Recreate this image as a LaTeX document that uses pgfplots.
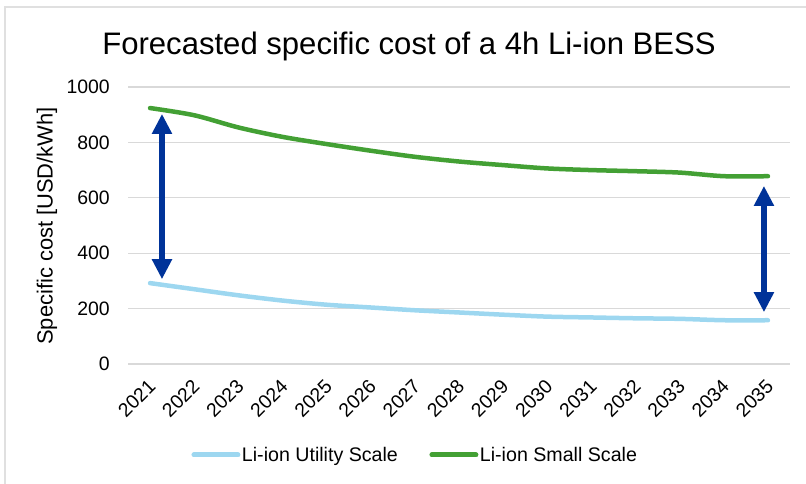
\documentclass[border=0pt]{standalone}
\usepackage{fontspec}
\setmainfont{Liberation Sans}
\usepackage{pgfplots}
\pgfplotsset{compat=1.18}
\usetikzlibrary{arrows.meta}

\definecolor{gridgray}{RGB}{217,217,217}
\definecolor{framegray}{RGB}{224,224,224}
\definecolor{utilblue}{RGB}{157,215,240}
\definecolor{smallgreen}{RGB}{67,160,52}
\definecolor{arrowblue}{RGB}{0,51,153}

% Specific cost of a 4h Li-ion BESS [USD/kWh]
\pgfplotstableread{
year utility small
2021 292 924
2022 270 898
2023 248 854
2024 229 820
2025 214 794
2026 204 770
2027 194 748
2028 186 731
2029 178 718
2030 171 706
2031 168 700
2032 165 696
2033 163 691
2034 158 678
2035 158 678
}\costdata

\begin{document}
\begin{tikzpicture}
\useasboundingbox (0,0) rectangle (806bp,484bp);
% chart area frame
\draw[framegray, line width=1.5bp] (5bp,-20bp) -- (5bp,477bp) -- (830bp,477bp);
% title
\node[font=\fontsize{31.2}{36}\selectfont, anchor=base] at (409bp,429bp)
  {Forecasted specific cost of a 4h Li-ion BESS};
% axis title
\node[font=\fontsize{22}{26}\selectfont, rotate=90, anchor=center] at (47bp,258bp)
  {Specific cost [USD/kWh]};
\begin{axis}[
  at={(128bp,120bp)}, anchor=south west,
  width=662bp, height=277bp, scale only axis,
  xmin=2020.5, xmax=2035.5, ymin=0, ymax=1000,
  xtick={2021,...,2035}, ytick={0,200,...,1000},
  ymajorgrids, grid style={gridgray, line width=1.2bp},
  axis line style={draw=none}, major tick length=0pt,
  /pgf/number format/1000 sep={},
  /pgf/number format/assume math mode=true,
  tick label style={font=\fontsize{19.5}{23}\selectfont},
  yticklabel style={anchor=east, inner sep=0pt, xshift=-18bp},
  xticklabel style={xshift=2bp, yshift=-19bp, rotate=45, anchor=east, inner sep=0pt},
  legend style={draw=none, fill=none, at={(0.4335,-0.3285)}, anchor=center,
    font=\fontsize{19.7}{23}\selectfont, nodes={inner sep=1.5bp},
    /tikz/every even column/.append style={column sep=30bp}},
  legend columns=2,
  legend image code/.code={\draw[#1, line width=5bp, line cap=round] (0bp,0bp) -- (44bp,0bp);},
]
\addplot[utilblue, line width=4.5bp, line cap=round, line join=round, smooth, tension=0.5]
  table[x=year, y=utility] {\costdata};
\addlegendentry{Li-ion Utility Scale}
\addplot[smallgreen, line width=4.5bp, line cap=round, line join=round, smooth, tension=0.5]
  table[x=year, y=small] {\costdata};
\addlegendentry{Li-ion Small Scale}
% cost gap indicators
\addplot[arrowblue, line width=6bp, forget plot,
  {Triangle[width=19bp,length=20bp]}-{Triangle[width=19bp,length=20bp]}]
  coordinates {(2021.27,306) (2021.27,903)};
\addplot[arrowblue, line width=6bp, forget plot,
  {Triangle[width=19bp,length=20bp]}-{Triangle[width=19bp,length=20bp]}]
  coordinates {(2034.91,187) (2034.91,643)};
\end{axis}
\end{tikzpicture}
\end{document}
